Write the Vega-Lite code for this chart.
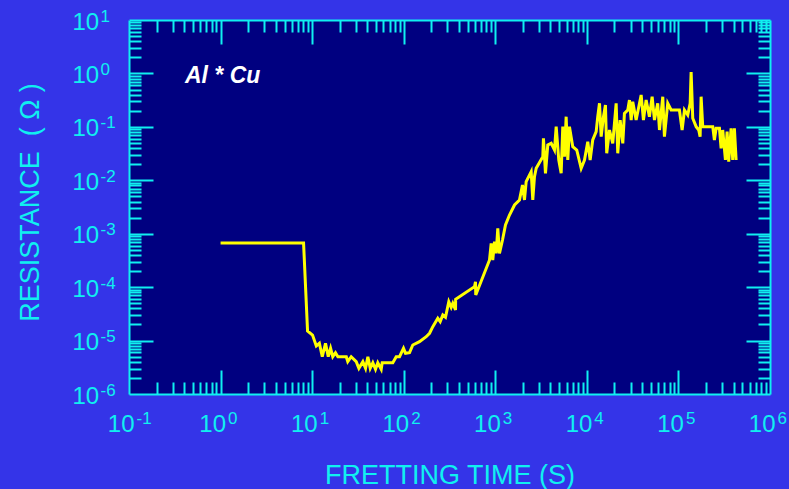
{
  "$schema": "https://vega.github.io/schema/vega-lite/v6.json",
  "width": 641,
  "height": 374,
  "autosize": {"type": "none"},
  "padding": {"left": 129, "top": 20, "right": 19, "bottom": 95},
  "background": "#3434E8",
  "view": {"fill": "#000080", "stroke": null},
  "config": {
    "axis": {
      "domainColor": "#10F0F0", "domainWidth": 2,
      "tickColor": "#10F0F0", "tickWidth": 2,
      "labelColor": "#10F0F0", "titleColor": "#10F0F0",
      "labelFont": "Liberation Sans", "titleFont": "Liberation Sans",
      "grid": false, "labelFlush": false, "labelOverlap": false
    }
  },
  "datasets": {
    "series": [
      {"t": 1, "r": 6.7e-4}, {"t": 8.06, "r": 6.7e-4}, {"t": 8.91, "r": 1.51e-5}, {"t": 10.1, "r": 1.27e-5},
      {"t": 11.1, "r": 7.92e-6}, {"t": 12.0, "r": 8.89e-6}, {"t": 12.9, "r": 4.99e-6}, {"t": 14.0, "r": 8.89e-6},
      {"t": 15.0, "r": 4.99e-6}, {"t": 15.9, "r": 7.16e-6}, {"t": 16.8, "r": 4.99e-6}, {"t": 18.0, "r": 5.93e-6},
      {"t": 19.1, "r": 4.99e-6}, {"t": 23.6, "r": 4.99e-6}, {"t": 24.5, "r": 4.03e-6}, {"t": 26.7, "r": 4.99e-6},
      {"t": 30.3, "r": 4.03e-6}, {"t": 32.4, "r": 3.03e-6}, {"t": 35.8, "r": 4.03e-6}, {"t": 38.3, "r": 3.03e-6},
      {"t": 40.6, "r": 4.99e-6}, {"t": 43.1, "r": 3.03e-6}, {"t": 46.0, "r": 3.85e-6}, {"t": 49.2, "r": 2.9e-6},
      {"t": 52.1, "r": 3.85e-6}, {"t": 56.8, "r": 2.9e-6}, {"t": 58.2, "r": 3.85e-6}, {"t": 76.0, "r": 3.85e-6},
      {"t": 82.8, "r": 4.99e-6}, {"t": 90.0, "r": 4.99e-6}, {"t": 99.5, "r": 7.16e-6}, {"t": 104.7, "r": 5.78e-6},
      {"t": 115.7, "r": 5.93e-6}, {"t": 125.7, "r": 8.26e-6}, {"t": 148.7, "r": 9.53e-6}, {"t": 176.1, "r": 1.18e-5},
      {"t": 191.4, "r": 1.37e-5}, {"t": 207.9, "r": 1.82e-5}, {"t": 235.6, "r": 2.61e-5}, {"t": 250.3, "r": 2.26e-5},
      {"t": 267.3, "r": 3.01e-5}, {"t": 286, "r": 2.73e-5}, {"t": 310.7, "r": 5.34e-5}, {"t": 330, "r": 4.2e-5},
      {"t": 343.6, "r": 4.99e-5}, {"t": 368, "r": 3.73e-5}, {"t": 369, "r": 5.93e-5}, {"t": 593, "r": 1.02e-4},
      {"t": 608, "r": 1.26e-4}, {"t": 612, "r": 7.13e-5}, {"t": 865, "r": 3.22e-4}, {"t": 902, "r": 6.62e-4},
      {"t": 939, "r": 3.22e-4}, {"t": 980, "r": 7.1e-4}, {"t": 1023, "r": 4.3e-4}, {"t": 1065, "r": 1.26e-3},
      {"t": 1111, "r": 4.3e-4}, {"t": 1199, "r": 7.63e-4}, {"t": 1292, "r": 1.46e-3}, {"t": 1429, "r": 2.24e-3},
      {"t": 1622, "r": 3.45e-3}, {"t": 1837, "r": 4.28e-3}, {"t": 1982, "r": 8.16e-3}, {"t": 2083, "r": 4.28e-3},
      {"t": 2174, "r": 9.42e-3}, {"t": 2466, "r": 1.45e-2}, {"t": 2567, "r": 4.28e-3}, {"t": 2679, "r": 1.17e-2},
      {"t": 2797, "r": 1.68e-2}, {"t": 3302, "r": 2.76e-2}, {"t": 3357, "r": 6.11e-2}, {"t": 3533, "r": 1.35e-2},
      {"t": 3742, "r": 4.57e-2}, {"t": 4078, "r": 4.92e-2}, {"t": 4430, "r": 3.69e-2}, {"t": 4624, "r": 0.101},
      {"t": 4935, "r": 2.4e-2}, {"t": 5240, "r": 1.35e-2}, {"t": 5458, "r": 0.101}, {"t": 5691, "r": 2.76e-2},
      {"t": 5942, "r": 0.155}, {"t": 6192, "r": 2.4e-2}, {"t": 6457, "r": 0.101}, {"t": 7016, "r": 4.25e-2},
      {"t": 7757, "r": 3.69e-2}, {"t": 8666, "r": 1.68e-2}, {"t": 9419, "r": 2.4e-2}, {"t": 10230, "r": 5.27e-2},
      {"t": 10860, "r": 2.4e-2}, {"t": 11590, "r": 5.68e-2}, {"t": 12640, "r": 8.12e-2}, {"t": 13150, "r": 0.155},
      {"t": 13740, "r": 0.276}, {"t": 14330, "r": 6.55e-2}, {"t": 15180, "r": 0.155}, {"t": 15960, "r": 0.257},
      {"t": 16480, "r": 3.2e-2}, {"t": 17650, "r": 8.73e-2}, {"t": 19180, "r": 4.92e-2}, {"t": 20890, "r": 0.276},
      {"t": 21750, "r": 3.2e-2}, {"t": 23110, "r": 0.134}, {"t": 24680, "r": 4.92e-2}, {"t": 25720, "r": 0.179},
      {"t": 27980, "r": 0.207}, {"t": 29180, "r": 0.318}, {"t": 30480, "r": 0.134}, {"t": 31700, "r": 0.296},
      {"t": 34520, "r": 0.134}, {"t": 39170, "r": 0.395}, {"t": 41490, "r": 0.134}, {"t": 44380, "r": 0.318},
      {"t": 48220, "r": 0.155}, {"t": 51620, "r": 0.367}, {"t": 54710, "r": 0.134}, {"t": 59420, "r": 0.276},
      {"t": 62090, "r": 8.73e-2}, {"t": 67450, "r": 0.367}, {"t": 70330, "r": 6.55e-2}, {"t": 76400, "r": 0.276},
      {"t": 83250, "r": 0.207}, {"t": 90420, "r": 0.207}, {"t": 102500, "r": 0.207}, {"t": 109700, "r": 8.73e-2},
      {"t": 116400, "r": 0.207}, {"t": 126400, "r": 0.167}, {"t": 134300, "r": 0.276}, {"t": 137600, "r": 1.06},
      {"t": 143300, "r": 0.145}, {"t": 156100, "r": 0.101}, {"t": 166600, "r": 8.73e-2}, {"t": 172500, "r": 6.55e-2},
      {"t": 176900, "r": 0.367}, {"t": 184200, "r": 0.101}, {"t": 237000, "r": 0.101}, {"t": 247000, "r": 5.68e-2},
      {"t": 258100, "r": 9.4e-2}, {"t": 280500, "r": 9.4e-2}, {"t": 292500, "r": 3.97e-2}, {"t": 304600, "r": 8.73e-2},
      {"t": 326000, "r": 2.4e-2}, {"t": 340200, "r": 8.12e-2}, {"t": 354200, "r": 2.23e-2}, {"t": 376000, "r": 9.4e-2},
      {"t": 391500, "r": 2.4e-2}, {"t": 408400, "r": 9.4e-2}, {"t": 426600, "r": 2.4e-2}
    ],
    "note": [{"t": 0.408, "r": 0.662, "label": "Al * Cu"}]
  },
  "layer": [
    {
      "data": {"name": "series"},
      "mark": {"type": "line", "color": "#FFFF00", "strokeWidth": 3, "clip": true},
      "encoding": {
        "x": {
          "field": "t", "type": "quantitative",
          "scale": {"type": "log", "domain": [0.1, 1000000], "nice": false},
          "axis": {
            "orient": "bottom", "values": [0.1, 1, 10, 100, 1000, 10000, 100000, 1000000],
            "ticks": false, "domain": true, "labelFontSize": 24, "labelPadding": 37, "labelBaseline": "alphabetic",
            "labelAlign": "right", "labelOffset": 5, "labelExpr": "'10'",
            "title": "FRETTING TIME (S)", "titleFontSize": 27, "titleFontWeight": "normal",
            "titleX": 320.5, "titleY": 89, "titleAlign": "center", "titleBaseline": "alphabetic"
          }
        },
        "y": {
          "field": "r", "type": "quantitative",
          "scale": {"type": "log", "domain": [0.000001, 10], "nice": false},
          "axis": {
            "orient": "left", "values": [0.000001, 0.00001, 0.0001, 0.001, 0.01, 0.1, 1, 10],
            "ticks": false, "domain": true, "labelFontSize": 24, "labelPadding": 57, "labelAlign": "left",
            "labelBaseline": "alphabetic", "labelOffset": 9, "labelExpr": "'10'",
            "title": "RESISTANCE\u00a0 (\u00a0Ω\u00a0)", "titleFontSize": 27, "titleFontWeight": "normal", "titleAngle": -90,
            "titleX": -91, "titleY": 182, "titleAlign": "center", "titleBaseline": "alphabetic"
          }
        }
      }
    },
    {
      "data": {"name": "series"},
      "mark": {"type": "line", "opacity": 0},
      "encoding": {
        "x": {
          "field": "t", "type": "quantitative",
          "scale": {"type": "log", "domain": [0.1, 1000000], "nice": false},
          "axis": {
            "orient": "bottom", "values": [0.1, 1, 10, 100, 1000, 10000, 100000, 1000000],
            "ticks": false, "domain": false, "title": null, "labelFontSize": 17, "labelPadding": 29,
            "labelBaseline": "alphabetic", "labelAlign": "left", "labelOffset": 7,
            "labelExpr": "['-6','-5','-4','-3','-2','-1','0','1','2','3','4','5','6'][round(log(datum.value)/LN10)+6]"
          }
        },
        "y": {
          "field": "r", "type": "quantitative",
          "scale": {"type": "log", "domain": [0.000001, 10], "nice": false},
          "axis": {
            "orient": "left", "values": [0.000001, 0.00001, 0.0001, 0.001, 0.01, 0.1, 1, 10],
            "ticks": false, "domain": false, "title": null, "labelFontSize": 17, "labelPadding": 29,
            "labelBaseline": "alphabetic", "labelAlign": "left", "labelOffset": 1,
            "labelExpr": "['-6','-5','-4','-3','-2','-1','0','1','2','3','4','5','6'][round(log(datum.value)/LN10)+6]"
          }
        }
      }
    },
    {
      "data": {"name": "series"},
      "mark": {"type": "line", "opacity": 0},
      "encoding": {
        "x": {
          "field": "t", "type": "quantitative",
          "scale": {"type": "log", "domain": [0.1, 1000000], "nice": false},
          "axis": {"orient": "bottom", "values": [1, 10, 100, 1000, 10000, 100000], "tickSize": -24, "labels": false, "domain": false, "title": null}
        },
        "y": {
          "field": "r", "type": "quantitative",
          "scale": {"type": "log", "domain": [0.000001, 10], "nice": false},
          "axis": {"orient": "left", "values": [0.00001, 0.0001, 0.001, 0.01, 0.1, 1], "tickSize": -24, "labels": false, "domain": false, "title": null}
        }
      }
    },
    {
      "data": {"name": "series"},
      "mark": {"type": "line", "opacity": 0},
      "encoding": {
        "x": {
          "field": "t", "type": "quantitative",
          "scale": {"type": "log", "domain": [0.1, 1000000], "nice": false},
          "axis": {"orient": "bottom", "tickSize": -12, "labels": false, "domain": false, "title": null,
            "values": [0.2,0.3,0.4,0.5,0.6,0.7,0.8,0.9,2,3,4,5,6,7,8,9,20,30,40,50,60,70,80,90,200,300,400,500,600,700,800,900,2000,3000,4000,5000,6000,7000,8000,9000,20000,30000,40000,50000,60000,70000,80000,90000,200000,300000,400000,500000,600000,700000,800000,900000]}
        },
        "y": {
          "field": "r", "type": "quantitative",
          "scale": {"type": "log", "domain": [0.000001, 10], "nice": false},
          "axis": {"orient": "left", "tickSize": -12, "labels": false, "domain": false, "title": null,
            "values": [2e-6,3e-6,4e-6,5e-6,6e-6,7e-6,8e-6,9e-6,2e-5,3e-5,4e-5,5e-5,6e-5,7e-5,8e-5,9e-5,2e-4,3e-4,4e-4,5e-4,6e-4,7e-4,8e-4,9e-4,0.002,0.003,0.004,0.005,0.006,0.007,0.008,0.009,0.02,0.03,0.04,0.05,0.06,0.07,0.08,0.09,0.2,0.3,0.4,0.5,0.6,0.7,0.8,0.9,2,3,4,5,6,7,8,9]}
        }
      }
    },
    {
      "data": {"name": "series"},
      "mark": {"type": "line", "opacity": 0},
      "encoding": {
        "x": {
          "field": "t", "type": "quantitative",
          "scale": {"type": "log", "domain": [0.1, 1000000], "nice": false},
          "axis": {"orient": "top", "values": [1, 10, 100, 1000, 10000, 100000], "tickSize": -24, "labels": false, "domain": true, "title": null}
        },
        "y": {
          "field": "r", "type": "quantitative",
          "scale": {"type": "log", "domain": [0.000001, 10], "nice": false},
          "axis": {"orient": "right", "values": [0.00001, 0.0001, 0.001, 0.01, 0.1, 1], "tickSize": -24, "labels": false, "domain": true, "title": null}
        }
      }
    },
    {
      "data": {"name": "series"},
      "mark": {"type": "line", "opacity": 0},
      "encoding": {
        "x": {
          "field": "t", "type": "quantitative",
          "scale": {"type": "log", "domain": [0.1, 1000000], "nice": false},
          "axis": {"orient": "top", "tickSize": -12, "labels": false, "domain": false, "title": null,
            "values": [0.2,0.3,0.4,0.5,0.6,0.7,0.8,0.9,2,3,4,5,6,7,8,9,20,30,40,50,60,70,80,90,200,300,400,500,600,700,800,900,2000,3000,4000,5000,6000,7000,8000,9000,20000,30000,40000,50000,60000,70000,80000,90000,200000,300000,400000,500000,600000,700000,800000,900000]}
        },
        "y": {
          "field": "r", "type": "quantitative",
          "scale": {"type": "log", "domain": [0.000001, 10], "nice": false},
          "axis": {"orient": "right", "tickSize": -12, "labels": false, "domain": false, "title": null,
            "values": [2e-6,3e-6,4e-6,5e-6,6e-6,7e-6,8e-6,9e-6,2e-5,3e-5,4e-5,5e-5,6e-5,7e-5,8e-5,9e-5,2e-4,3e-4,4e-4,5e-4,6e-4,7e-4,8e-4,9e-4,0.002,0.003,0.004,0.005,0.006,0.007,0.008,0.009,0.02,0.03,0.04,0.05,0.06,0.07,0.08,0.09,0.2,0.3,0.4,0.5,0.6,0.7,0.8,0.9,2,3,4,5,6,7,8,9]}
        }
      }
    },
    {
      "data": {"name": "note"},
      "mark": {"type": "text", "color": "#FFFFFF", "font": "Liberation Sans", "fontSize": 23, "fontStyle": "italic", "fontWeight": "bold", "align": "left", "baseline": "alphabetic"},
      "encoding": {
        "x": {"field": "t", "type": "quantitative", "scale": {"type": "log", "domain": [0.1, 1000000], "nice": false}, "axis": null},
        "y": {"field": "r", "type": "quantitative", "scale": {"type": "log", "domain": [0.000001, 10], "nice": false}, "axis": null},
        "text": {"field": "label", "type": "nominal"}
      }
    }
  ],
  "resolve": {"axis": {"x": "independent", "y": "independent"}}
}
